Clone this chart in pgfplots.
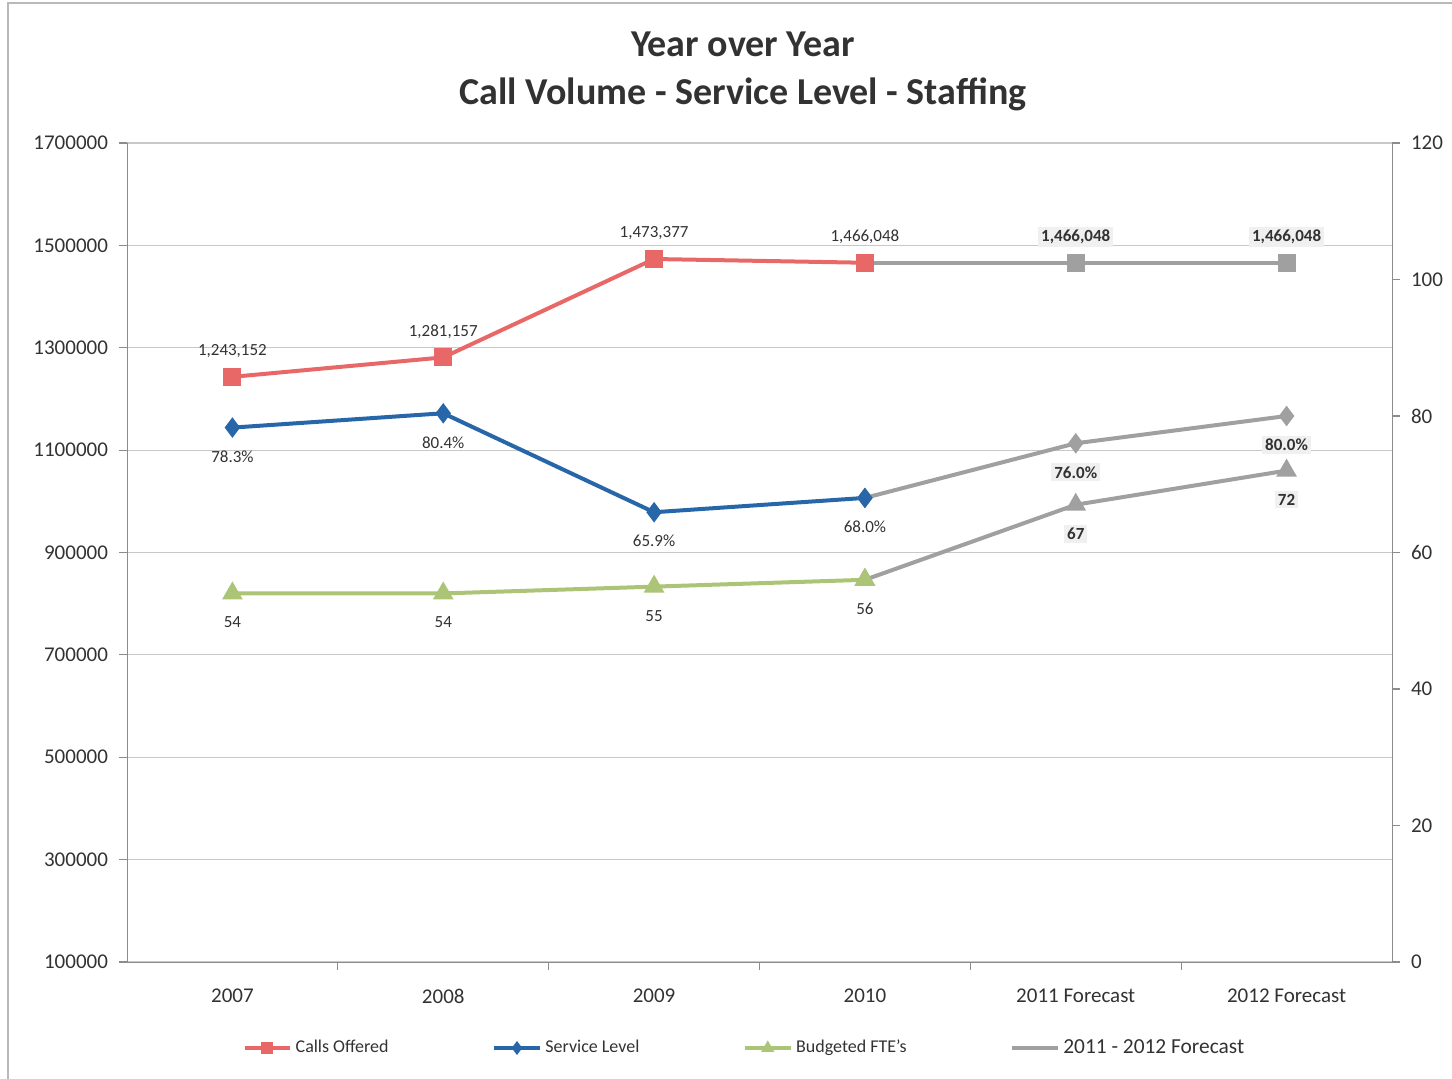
\documentclass[border=0pt]{standalone}
\usepackage{fontspec}
\setmainfont{Carlito}
\usepackage{pgfplots}
\pgfplotsset{compat=1.18}
\definecolor{cred}{RGB}{232,104,104}
\definecolor{cblue}{RGB}{40,102,170}
\definecolor{cgreen}{RGB}{172,196,118}
\definecolor{cgray}{RGB}{160,160,160}
\definecolor{axgray}{RGB}{140,140,140}
\definecolor{gridgray}{RGB}{200,200,200}
\definecolor{txt}{RGB}{50,50,50}
\begin{document}
\begin{tikzpicture}
\useasboundingbox (0,0) rectangle (726pt,539pt);
\draw[gray!55, line width=0.7pt] (4pt,-5pt) rectangle (740pt,537.5pt);
\pgfplotsset{
  base/.style={
    width=632.5pt, height=409.5pt, scale only axis,
    at={(63.5pt,58pt)}, anchor=south west,
    xmin=-0.5, xmax=5.5,
    /pgf/number format/assume math mode=true,
    tick label style={font=\fontsize{10.5}{12}\selectfont, text=txt},
    axis line style={axgray},
    tick style={axgray, line width=0.6pt},
    tick align=outside,
    major tick length=4pt,
    clip=false,
    nodes near coords style={font=\fontsize{8.5}{10}\selectfont, text=txt, anchor=center, inner sep=1.5pt},
  },
  lab/.style={nodes near coords, point meta=explicit symbolic},
  up/.style={nodes near coords style={yshift=13pt}},
  down/.style={nodes near coords style={yshift=-14.5pt}},
  fc/.style={nodes near coords style={font=\bfseries\fontsize{8.5}{10}\selectfont, fill=gray!12}},
}
% ---------- left axis: call volume ----------
\begin{axis}[base,
  axis y line*=left, axis x line*=bottom,
  ymin=100000, ymax=1700000,
  scaled y ticks=false,
  ytick={100000,300000,500000,700000,900000,1100000,1300000,1500000,1700000},
  yticklabels={100000,300000,500000,700000,900000,1100000,1300000,1500000,1700000},
  yticklabel style={xshift=-2pt},
  ymajorgrids, grid style={gridgray, line width=0.6pt},
  xtick={0,1,2,3,4,5},
  xticklabels={2007,2008,2009,2010,2011 Forecast,2012 Forecast},
  xticklabel style={yshift=-6pt},
  x tick style={draw=none},
  extra x ticks={0.5,1.5,2.5,3.5,4.5},
  extra x tick labels={},
  extra x tick style={grid=none, x tick style={draw=axgray}},
]
\addplot[cgray, line width=2pt, mark=square*, mark size=3.5pt, mark options={fill=cgray, draw=cgray}]
  coordinates {(3,1466048) (4,1466048) (5,1466048)};
\addplot[draw=none, lab, up, fc] table[meta=lab] {
x y lab
4 1466048 1,466,048
5 1466048 1,466,048
};
\addplot[cred, line width=2pt, mark=square*, mark size=3.5pt, mark options={fill=cred, draw=cred}, lab, up] table[meta=lab] {
x y lab
0 1243152 1,243,152
1 1281157 1,281,157
2 1473377 1,473,377
3 1466048 1,466,048
};
\end{axis}
% ---------- right axis: service level and FTE ----------
\begin{axis}[base,
  axis y line*=right, axis x line=none,
  ymin=0, ymax=120, ytick={0,20,40,60,80,100,120},
  yticklabel style={xshift=2pt},
  legend columns=4,
  legend style={draw=none, fill=none, at={(axis description cs:0.489,-0.105)}, anchor=center,
    font=\fontsize{9}{11}\selectfont, text=txt,
    /tikz/every even column/.append style={column sep=50pt}},
  legend image post style={line width=1.6pt, mark size=2.2pt},
  legend image code/.code={\draw[mark repeat=2, mark phase=2, #1] plot coordinates {(0cm,0cm) (0.4cm,0cm) (0.8cm,0cm)};},
]
\addlegendimage{cred, line width=1.6pt, mark=square*, mark size=2pt, mark options={fill=cred, draw=cred}}
\addlegendentry{Calls Offered}
\addplot[cgray, line width=2pt, mark=diamond*, mark size=3.5pt, mark options={fill=cgray, draw=cgray}, forget plot]
  coordinates {(3,68.0) (4,76.0) (5,80.0)};
\addplot[cgray, line width=2pt, mark=triangle*, mark size=4pt, mark options={fill=cgray, draw=cgray}, forget plot]
  coordinates {(3,56) (4,67) (5,72)};
\addplot[draw=none, lab, down, fc, forget plot, nodes near coords={\pgfplotspointmeta\%}] table[meta=lab] {
x y lab
4 76.0 76.0
5 80.0 80.0
};
\addplot[draw=none, lab, down, fc, forget plot] table[meta=lab] {
x y lab
4 67 67
5 72 72
};
\addplot[cblue, line width=2pt, mark=diamond*, mark size=3.5pt, mark options={fill=cblue, draw=cblue}, lab, down, nodes near coords={\pgfplotspointmeta\%}] table[meta=lab] {
x y lab
0 78.3 78.3
1 80.4 80.4
2 65.9 65.9
3 68.0 68.0
};
\addlegendentry{Service Level}
\addplot[cgreen, line width=2pt, mark=triangle*, mark size=4pt, mark options={fill=cgreen, draw=cgreen}, lab, down] table[meta=lab] {
x y lab
0 54 54
1 54 54
2 55 55
3 56 56
};
\addlegendentry{Budgeted FTE's\hspace{16pt}}
\addlegendimage{cgray, line width=1.6pt}
\addlegendentry{\fontsize{10.7}{12}\selectfont 2011 - 2012 Forecast}
\end{axis}
\node[font=\bfseries\fontsize{19}{24}\selectfont, align=center, text=txt] at (371.5pt,503.5pt)
  {Year over Year\\Call Volume - Service Level - Staffing};
\end{tikzpicture}
\end{document}
